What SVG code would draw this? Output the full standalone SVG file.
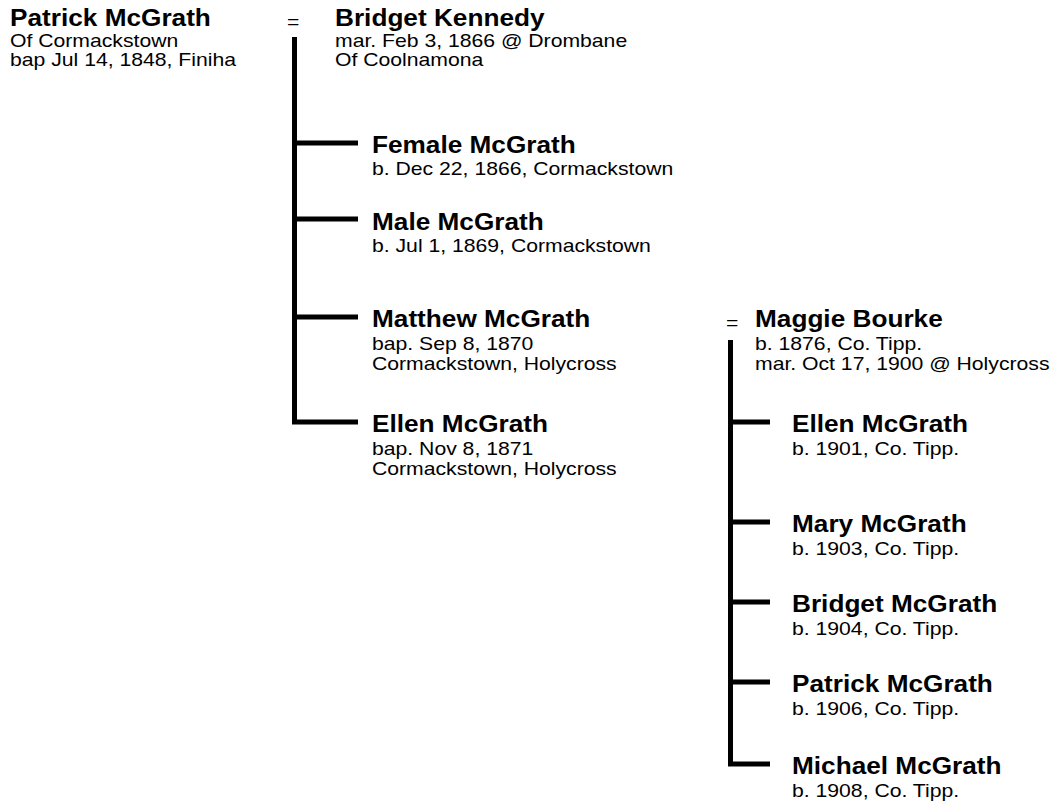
<svg xmlns="http://www.w3.org/2000/svg" width="1055" height="805" viewBox="0 0 1055 805">
<style>
.n{font-family:"Liberation Sans",Arial,sans-serif;font-weight:bold;font-size:23.5px;fill:#000}
.d{font-family:"Liberation Sans",Arial,sans-serif;font-size:19px;fill:#000}
.eq{font-family:"Liberation Sans",Arial,sans-serif;font-size:19px;fill:#000}
.ln{fill:none;stroke:#000;stroke-width:5;stroke-linejoin:miter;stroke-linecap:butt}
</style>
<rect width="1055" height="805" fill="#fff"/>
<g id="connectors">
<path class="ln" d="M294.5,37 V422 H358"/>
<path class="ln" d="M294.5,143 H358 M294.5,219 H358 M294.5,317 H358"/>
<path class="ln" d="M730.5,340 V764 H770"/>
<path class="ln" d="M730.5,422 H770 M730.5,522 H770 M730.5,602 H770 M730.5,682 H770"/>
<g transform="translate(287,0) scale(1.115,1)"><text class="eq" x="0" y="28">=</text></g>
<g transform="translate(726,0) scale(1.115,1)"><text class="eq" x="0" y="329">=</text></g>
</g>
<g id="patrick-sr" transform="translate(10,0) scale(1.115,1)">
<text class="n" x="0" y="26">Patrick McGrath</text>
<text class="d" x="0" y="47">Of Cormackstown</text>
<text class="d" x="0" y="66">bap Jul 14, 1848, Finiha</text>
</g>
<g id="bridget-kennedy" transform="translate(335,0) scale(1.115,1)">
<text class="n" x="0" y="26">Bridget Kennedy</text>
<text class="d" x="0" y="47">mar. Feb 3, 1866 @ Drombane</text>
<text class="d" x="0" y="66">Of Coolnamona</text>
</g>
<g id="female" transform="translate(372,0) scale(1.115,1)">
<text class="n" x="0" y="153">Female McGrath</text>
<text class="d" x="0" y="175">b. Dec 22, 1866, Cormackstown</text>
</g>
<g id="male" transform="translate(372,0) scale(1.115,1)">
<text class="n" x="0" y="230">Male McGrath</text>
<text class="d" x="0" y="252">b. Jul 1, 1869, Cormackstown</text>
</g>
<g id="matthew" transform="translate(372,0) scale(1.115,1)">
<text class="n" x="0" y="327">Matthew McGrath</text>
<text class="d" x="0" y="350">bap. Sep 8, 1870</text>
<text class="d" x="0" y="370">Cormackstown, Holycross</text>
</g>
<g id="ellen-1871" transform="translate(372,0) scale(1.115,1)">
<text class="n" x="0" y="432">Ellen McGrath</text>
<text class="d" x="0" y="455">bap. Nov 8, 1871</text>
<text class="d" x="0" y="475">Cormackstown, Holycross</text>
</g>
<g id="maggie" transform="translate(755,0) scale(1.115,1)">
<text class="n" x="0" y="327">Maggie Bourke</text>
<text class="d" x="0" y="350">b. 1876, Co. Tipp.</text>
<text class="d" x="0" y="370">mar. Oct 17, 1900 @ Holycross</text>
</g>
<g id="ellen-1901" transform="translate(792,0) scale(1.115,1)">
<text class="n" x="0" y="432">Ellen McGrath</text>
<text class="d" x="0" y="455">b. 1901, Co. Tipp.</text>
</g>
<g id="mary" transform="translate(792,0) scale(1.115,1)">
<text class="n" x="0" y="532">Mary McGrath</text>
<text class="d" x="0" y="555">b. 1903, Co. Tipp.</text>
</g>
<g id="bridget-1904" transform="translate(792,0) scale(1.115,1)">
<text class="n" x="0" y="612">Bridget McGrath</text>
<text class="d" x="0" y="635">b. 1904, Co. Tipp.</text>
</g>
<g id="patrick-1906" transform="translate(792,0) scale(1.115,1)">
<text class="n" x="0" y="692">Patrick McGrath</text>
<text class="d" x="0" y="715">b. 1906, Co. Tipp.</text>
</g>
<g id="michael" transform="translate(792,0) scale(1.115,1)">
<text class="n" x="0" y="774">Michael McGrath</text>
<text class="d" x="0" y="797">b. 1908, Co. Tipp.</text>
</g>
</svg>
